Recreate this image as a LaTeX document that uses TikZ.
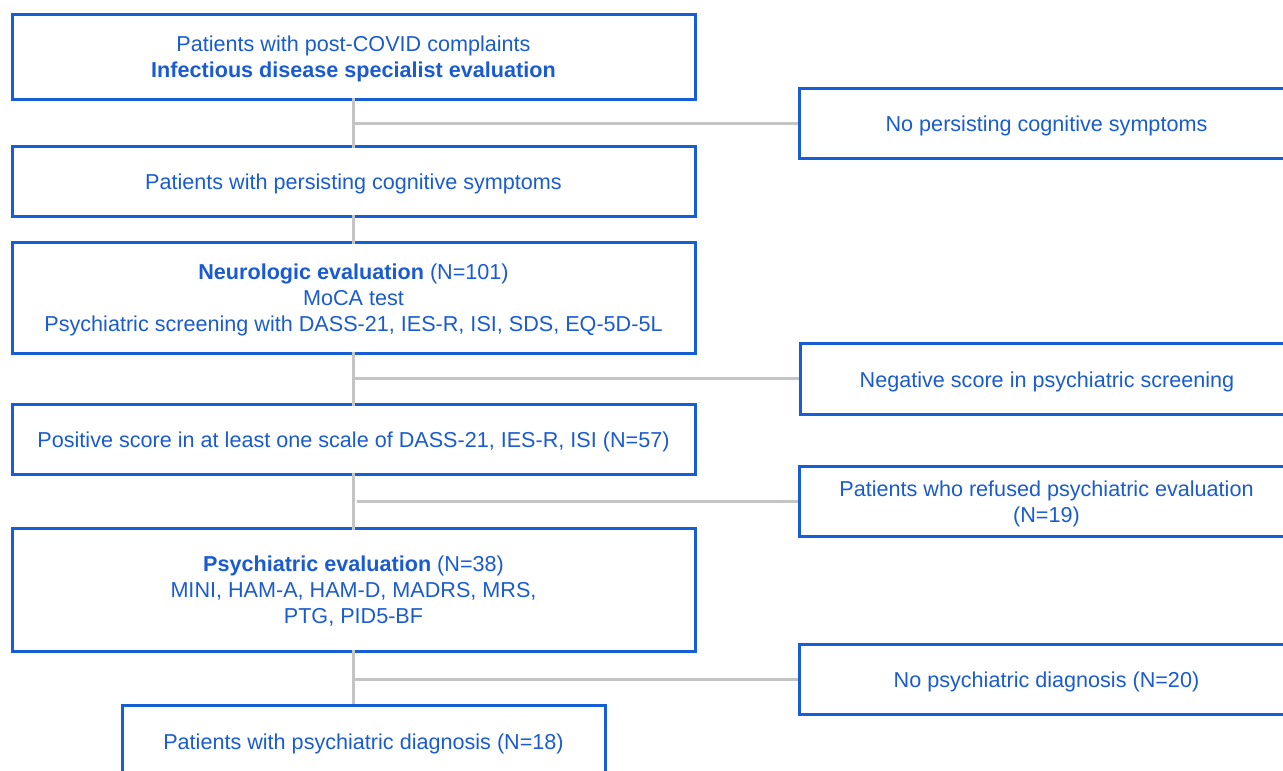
\documentclass[tikz,border=0pt]{standalone}
\usepackage{fontspec}
\setmainfont{Liberation Sans}
\definecolor{bblue}{RGB}{22,94,214}
\definecolor{tblue}{RGB}{26,92,208}
\definecolor{cgray}{RGB}{196,196,196}
\newcommand{\lowr}[1]{\raisebox{-3pt}[\height][\depth]{#1}}
\newcommand{\lns}[1]{\lowr{\begin{tabular}{@{}c@{}}#1\end{tabular}}}
\begin{document}
\begin{tikzpicture}[x=1pt,y=-1pt,
  box/.style={draw=bblue, line width=3pt, fill=white, inner sep=0pt, align=center,
    text=tblue, font=\fontsize{21.6}{26}\selectfont},
  conn/.style={draw=cgray, line width=3pt}]
\useasboundingbox (0,0) rectangle (1283,771);
\clip (0,0) rectangle (1283,771);
\node[box, minimum width=683, minimum height=85] (b1) at (353.5,56.5)
  {\lns{Patients with post-COVID complaints\\\textbf{Infectious disease specialist evaluation}}};
\node[box, minimum width=495, minimum height=70] (b2) at (1046.5,123)
  {\lowr{No persisting cognitive symptoms}};
\node[box, minimum width=683, minimum height=70] (b3) at (353.5,181)
  {\lowr{Patients with persisting cognitive symptoms}};
\node[box, minimum width=683, minimum height=111] (b4) at (353.5,297.5)
  {\lns{\textbf{Neurologic evaluation} (N=101)\\MoCA test\\Psychiatric screening with DASS-21, IES-R, ISI, SDS, EQ-5D-5L}};
\node[box, minimum width=494, minimum height=71] (b5) at (1047,378.5)
  {\lowr{Negative score in psychiatric screening}};
\node[box, minimum width=683, minimum height=70] (b6) at (353.5,439)
  {\lowr{Positive score in at least one scale of DASS-21, IES-R, ISI (N=57)}};
\node[box, minimum width=495, minimum height=70] (b7) at (1046.5,501)
  {\lns{Patients who refused psychiatric evaluation\\(N=19)}};
\node[box, minimum width=683, minimum height=123] (b8) at (353.5,589.5)
  {\lns{\textbf{Psychiatric evaluation} (N=38)\\MINI, HAM-A, HAM-D, MADRS, MRS,\\PTG, PID5-BF}};
\node[box, minimum width=495, minimum height=70] (b9) at (1046.5,679)
  {\lowr{No psychiatric diagnosis (N=20)}};
\node[box, minimum width=483, minimum height=72] (b10) at (363.5,741)
  {\lowr{Patients with psychiatric diagnosis (N=18)}};
% connectors
\draw[conn] ([yshift=3]b1.south) -- ([yshift=-3]b1.south |- b3.north);
\coordinate (j1) at (b1.south |- b2.west);
\draw[conn] (j1) -- (b2.west);
\draw[conn] ([yshift=3]b3.south) -- ([yshift=-3]b3.south |- b4.north);
\draw[conn] ([yshift=3]b4.south) -- ([yshift=-3]b4.south |- b6.north);
\coordinate (j2) at (b4.south |- b5.west);
\draw[conn] (j2) -- (b5.west);
\draw[conn] ([yshift=3]b6.south) -- ([yshift=-3]b6.south |- b8.north);
\coordinate (j3) at ([xshift=3]b6.south |- b7.west);
\draw[conn] (j3) -- (b7.west);
\draw[conn] ([yshift=3]b8.south) -- ([yshift=0]b8.south |- b10.north);
\coordinate (j4) at (b8.south |- b9.west);
\draw[conn] (j4) -- (b9.west);
\end{tikzpicture}
\end{document}
